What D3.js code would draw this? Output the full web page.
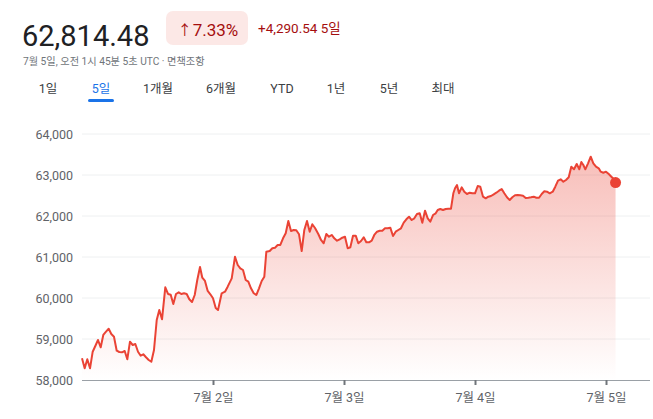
<!DOCTYPE html>
<html>
<head>
	<meta charset="utf-8">
	<title>5일 차트</title>
	<script src="https://d3js.org/d3.v7.min.js"></script>
	<style>
		body { margin: 0; background: #fff; }
		text { font-family: Roboto, "Noto Sans CJK KR", sans-serif; }
	</style>
</head>
<body>
	<svg width="653" height="419"></svg>
	<script>
		// hours since 7월 1일 00:00 UTC
		const hours = [0, 0.49, 0.97, 1.47, 1.96, 2.44, 2.93, 3.43, 3.9, 4.4, 4.89, 5.37, 5.86, 6.36, 6.83, 7.33, 7.82, 8.3, 8.79, 9.29,
			9.77, 10.26, 10.75, 11.23, 11.73, 12.22, 12.7, 13.19, 13.69, 14.16, 14.66, 15.26, 15.76, 16.25, 16.73, 17.22, 17.72, 18.19, 18.69, 19.18,
			19.66, 20.15, 20.65, 21.12, 21.62, 22.04, 22.53, 23.03, 23.51, 24.0, 24.5, 24.92, 25.59, 26.2, 26.69, 27.43, 28.03, 28.53, 29.0, 29.5,
			29.99, 30.47, 30.96, 31.46, 31.93, 32.43, 32.92, 33.4, 33.77, 34.39, 34.87, 35.36, 35.85, 36.33, 36.83, 37.32, 37.8, 38.29, 38.79, 39.26,
			39.76, 40.25, 40.73, 41.22, 41.72, 42.19, 42.69, 43.29, 43.79, 44.28, 44.76, 45.25, 45.75, 46.22, 46.72, 47.21, 47.69, 48.18, 48.68, 49.16,
			49.65, 50.15, 50.62, 51.12, 51.61, 52.09, 52.58, 53.08, 53.55, 54.05, 54.54, 55.02, 55.51, 56.01, 56.48, 56.98, 57.47, 57.95, 58.44, 58.94,
			59.42, 59.91, 60.4, 60.88, 61.37, 61.87, 62.35, 62.84, 63.34, 63.81, 64.31, 64.8, 65.17, 65.64, 66.14, 66.63, 67.11, 67.6, 68.03, 68.34,
			68.7, 69.07, 69.56, 70.04, 70.53, 71.03, 71.51, 72.0, 72.5, 72.97, 73.47, 73.96, 74.44, 74.93, 75.43, 75.9, 76.4, 76.89, 77.37, 77.86,
			78.36, 78.84, 79.33, 79.82, 80.3, 80.8, 81.29, 81.77, 82.26, 82.76, 83.24, 83.73, 84.22, 84.7, 85.19, 85.69, 86.24, 86.71, 87.21, 87.7,
			88.18, 88.67, 89.17, 89.64, 90.14, 90.63, 91.11, 91.48, 91.85, 92.21, 92.71, 93.2, 93.68, 94.17, 94.67, 95.03, 95.51, 96.0, 96.5, 96.98,
			97.47, 97.75];
		const prices = [58530, 58285, 58505, 58285, 58690, 58829, 58976, 58798, 59098, 59178, 59251, 59122, 59056, 58715, 58683, 58676, 58707, 58505, 58934, 58854,
			58878, 58690, 58593, 58627, 58554, 58488, 58446, 58732, 59463, 59707, 59480, 60261, 60098, 60080, 59854, 60098, 60139, 60098, 60115, 60098,
			59968, 59902, 60073, 60439, 60756, 60495, 60415, 60171, 60090, 59993, 59756, 59707, 60115, 60154, 60276, 60480, 61007, 60805, 60724, 60683,
			60439, 60398, 60237, 60115, 60073, 60237, 60415, 60520, 61129, 61146, 61212, 61227, 61293, 61293, 61456, 61578, 61878, 61634, 61659, 61651,
			61554, 61146, 61659, 61878, 61617, 61798, 61707, 61561, 61415, 61334, 61561, 61495, 61537, 61456, 61398, 61432, 61471, 61495, 61212, 61237,
			61520, 61520, 61334, 61390, 61480, 61359, 61359, 61398, 61537, 61617, 61641, 61641, 61700, 61700, 61715, 61512, 61617, 61659, 61700, 61837,
			61920, 61983, 61902, 61944, 62049, 62066, 61837, 62129, 61944, 61861, 62024, 62066, 62146, 62171, 62146, 62171, 62178, 62178, 62554, 62676,
			62756, 62554, 62700, 62593, 62537, 62568, 62554, 62554, 62732, 62715, 62471, 62432, 62471, 62488, 62529, 62568, 62617, 62659, 62554, 62456,
			62390, 62456, 62505, 62512, 62505, 62495, 62439, 62446, 62456, 62471, 62446, 62446, 62537, 62602, 62593, 62554, 62593, 62715, 62861, 62895,
			62837, 62878, 62944, 63202, 63139, 63268, 63139, 63317, 63244, 63139, 63285, 63446, 63285, 63202, 63163, 63081, 63056, 63081, 63024, 62959,
			62895, 62814.48];

		const yTicks = [58000, 59000, 60000, 61000, 62000, 63000, 64000];
		const xTickDays = [2, 3, 4, 5];
		const tabs = ["1일", "5일", "1개월", "6개월", "YTD", "1년", "5년", "최대"];
		const tabCenters = [48, 101, 158, 221, 282, 336, 389, 443];
		const activeTab = "5일";

		const lastPrice = "62,814.48";
		const changePct = "7.33%";
		const changeAbs = "+4,290.54 5일";
		const stamp = "7월 5일, 오전 1시 45분 5초 UTC · 면책조항";

		const red = "#ea4335";
		const t0 = Date.UTC(2024, 6, 1);
		const data = hours.map((h, i) => ({ t: new Date(t0 + h * 3600e3), v: prices[i] }));

		const svg = d3.select("svg");

		// header
		svg.append("text").attr("x", 22).attr("y", 46)
			.style("font-size", "29px").style("fill", "#202124").text(lastPrice);

		svg.append("rect").attr("x", 166).attr("y", 11).attr("width", 82).attr("height", 34)
			.attr("rx", 7).style("fill", "#fce8e6");
		const badge = svg.append("text").attr("x", 208).attr("y", 36).attr("text-anchor", "middle")
			.style("font-size", "17px").style("fill", "#a50e0e");
		badge.append("tspan").style("font-size", "14px").attr("dy", -1).text("↑");
		badge.append("tspan").attr("dx", 1).attr("dy", 1).text(changePct);
		svg.append("text").attr("x", 258).attr("y", 33)
			.style("font-size", "13.5px").style("fill", "#a50e0e").text(changeAbs);

		svg.append("text").attr("x", 23).attr("y", 65)
			.style("font-size", "10.2px").style("fill", "#70757a").text(stamp);

		// tabs
		svg.selectAll(".tab").data(tabs).enter().append("text")
			.attr("class", "tab")
			.attr("x", (d, i) => tabCenters[i]).attr("y", 93)
			.attr("text-anchor", "middle")
			.style("font-size", "12.5px")
			.style("fill", d => d == activeTab ? "#1a73e8" : "#3c4043")
			.text(d => d);
		const ai = tabs.indexOf(activeTab);
		svg.append("rect").attr("x", tabCenters[ai] - 13).attr("y", 99).attr("width", 26).attr("height", 3)
			.attr("rx", 1.5).style("fill", "#1a73e8");

		// scales
		const x = d3.scaleUtc()
			.domain([new Date(t0), new Date(t0 + 104.06 * 3600e3)])
			.range([82, 650]);
		const y = d3.scaleLinear().domain([58000, 64000]).range([380, 134]);

		// grid
		svg.append("g").selectAll("line").data(yTicks.slice(1)).enter().append("line")
			.attr("x1", 82).attr("x2", 650)
			.attr("y1", d => y(d)).attr("y2", d => y(d))
			.style("stroke", "#eef0f1").style("stroke-width", 1);

		svg.append("g").selectAll("text").data(yTicks).enter().append("text")
			.attr("x", 73).attr("y", d => y(d) + 4.5)
			.attr("text-anchor", "end")
			.style("font-size", "12.5px").style("fill", "#5f6368")
			.text(d => d3.format(",")(d));

		// area gradient
		const grad = svg.append("defs").append("linearGradient")
			.attr("id", "fade").attr("gradientUnits", "userSpaceOnUse")
			.attr("x1", 0).attr("x2", 0).attr("y1", y(63400)).attr("y2", y(58000));
		grad.append("stop").attr("offset", 0).attr("stop-color", red).attr("stop-opacity", 0.34);
		grad.append("stop").attr("offset", 1).attr("stop-color", red).attr("stop-opacity", 0);

		svg.append("path").datum(data)
			.attr("d", d3.area().x(d => x(d.t)).y0(y(58000)).y1(d => y(d.v)))
			.style("fill", "url(#fade)");

		// x axis
		const xAxis = svg.append("g").attr("transform", `translate(0,${y(58000)})`)
			.call(d3.axisBottom(x)
				.tickValues(xTickDays.map(d => new Date(Date.UTC(2024, 6, d))))
				.tickSize(5).tickPadding(8)
				.tickFormat(d => `7월 ${d.getUTCDate()}일`));
		xAxis.select(".domain").style("stroke", "#9aa0a6").attr("d", "M82,0.5H650");
		xAxis.selectAll(".tick line").style("stroke", "#70757a").style("stroke-width", 2);
		xAxis.selectAll(".tick text").style("font-size", "12.5px").style("fill", "#5f6368")
			.style("font-family", 'Roboto, "Noto Sans CJK KR", sans-serif');

		// line
		svg.append("path").datum(data)
			.attr("d", d3.line().x(d => x(d.t)).y(d => y(d.v)))
			.style("fill", "none").style("stroke", red).style("stroke-width", 2)
			.style("stroke-linejoin", "round");

		const last = data[data.length - 1];
		svg.append("circle").attr("cx", x(last.t)).attr("cy", y(last.v)).attr("r", 5.5)
			.style("fill", red);
	</script>
</body>
</html>
